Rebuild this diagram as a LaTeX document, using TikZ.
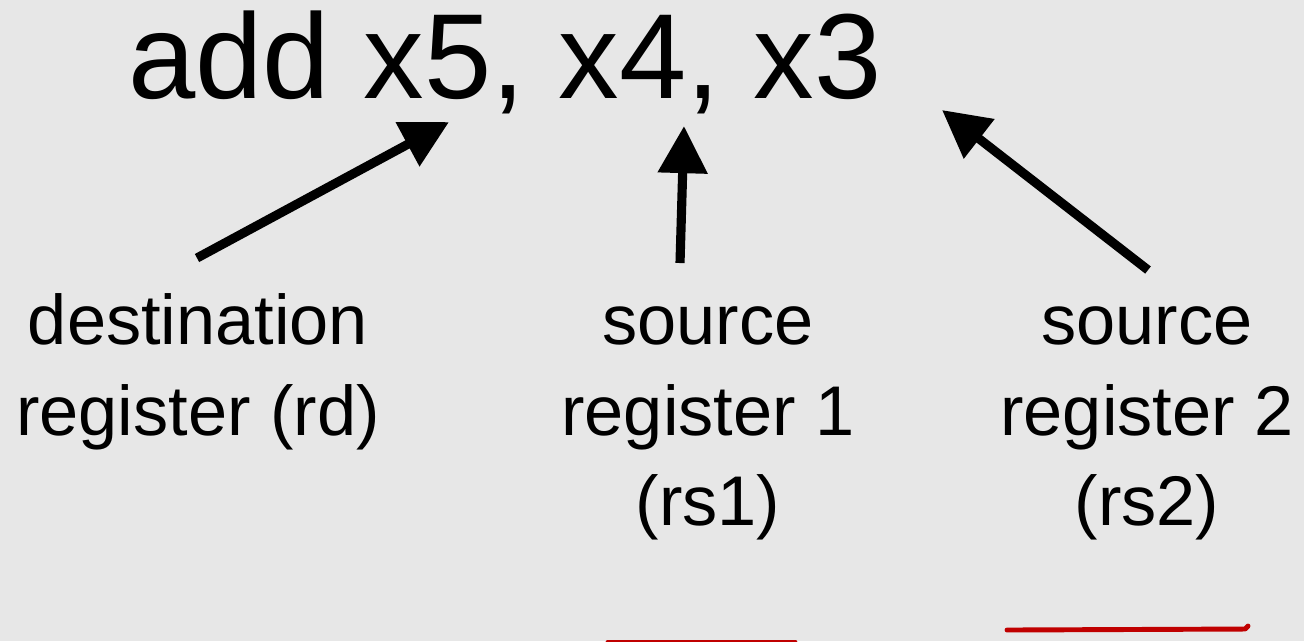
\documentclass[tikz,border=0pt]{standalone}
\usepackage{fontspec}
\setmainfont{Liberation Sans}
\usetikzlibrary{arrows.meta}

\definecolor{slidebg}{HTML}{E7E7E7}
\definecolor{markred}{HTML}{C00000}

\tikzset{
  instr/.style={anchor=base, inner sep=0pt, font=\fontsize{34.4}{41}\selectfont},
  regname/.style={anchor=base, inner sep=0pt, align=center,
    font=\fontsize{20}{25.6}\selectfont},
  pointer/.style={line width=2.6pt, -{Triangle[length=13.4pt,width=13.6pt]}},
  redmark/.style={draw=markred, line width=1.4pt, line cap=round, line join=round}
}

\begin{document}
\begin{tikzpicture}[x=0.01cm, y=-0.01cm]
        % Background and size of the slide
        \fill[slidebg] (0,0) rectangle (1304,641);
        \useasboundingbox (0,0) rectangle (1304,641);

        % Instruction
        \node[instr] (instr) at (505,98) {add x5, x4, x3};

        % Operand names (base = last line)
        \node[regname] (rd)  at (198,435) {destination\\register (rd)};
        \node[regname] (rs1) at (708,525) {source\\register 1\\(rs1)};
        \node[regname] (rs2) at (1147,525) {source\\register 2\\(rs2)};

        % Arrow ends
        \coordinate (rd tail)  at (197,258);
        \coordinate (rd tip)   at (449,122);
        \coordinate (rs1 tail) at (680,263);
        \coordinate (rs1 tip)  at (684,126);
        \coordinate (rs2 tail) at (1148,270);
        \coordinate (rs2 tip)  at (942,110);

        % Arrows
        \draw[pointer] (rd tail) -- (rd tip);
        \draw[pointer] (rs1 tail) -- (rs1 tip);
        \draw[pointer] (rs2 tail) -- (rs2 tip);

        % Red marks at the bottom
        \draw[redmark] (608,642) -- (795,642);
        \draw[redmark] (1007,630) -- (1245,629) -- (1248,626);
      \end{tikzpicture}
\end{document}
